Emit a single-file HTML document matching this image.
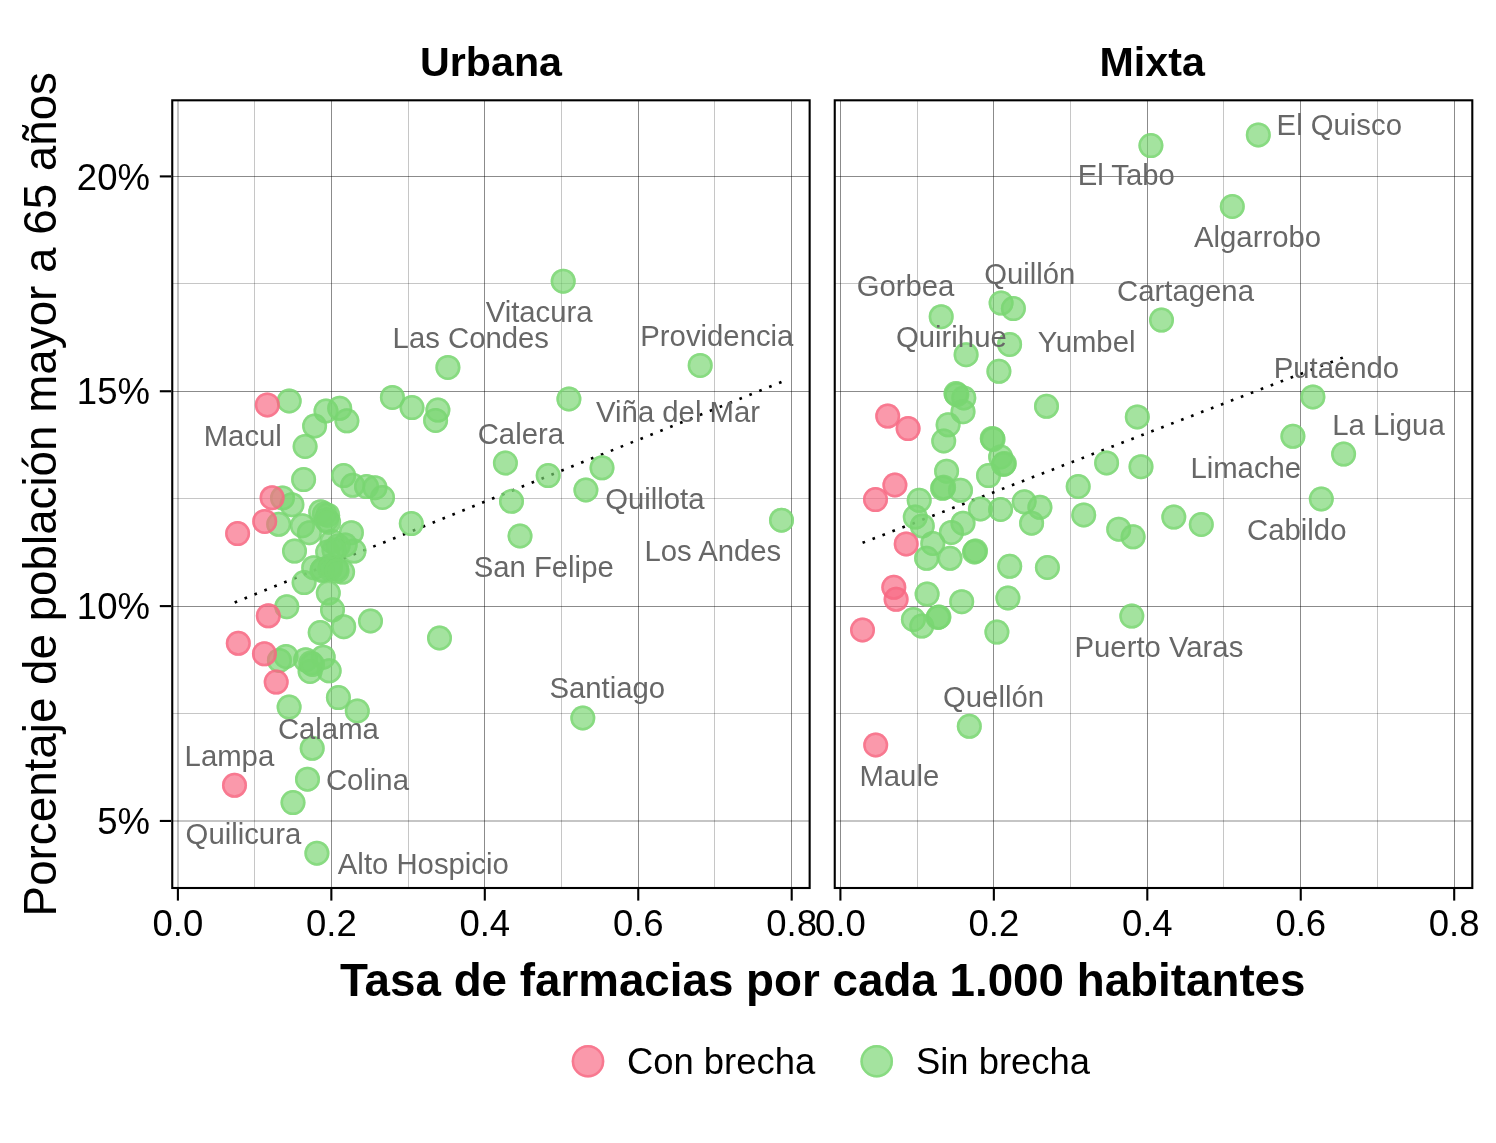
<!DOCTYPE html>
<html><head><meta charset="utf-8"><title>Chart</title>
<style>html,body{margin:0;padding:0;background:#fff}svg{display:block;will-change:transform}text{font-family:"Liberation Sans",sans-serif}.lb{font-size:29.3px;fill:#676767}.tk{font-size:36.5px;fill:#000}.lg{font-size:36.4px;fill:#000}.ti{font-size:45.75px;fill:#000;font-weight:bold}.st{font-size:41.2px;fill:#000;font-weight:bold}.yt{font-size:45.75px;fill:#000}.gM{stroke:#000;stroke-width:.46}.gm{stroke:#000;stroke-width:.23}.g circle{fill:#79D672}.g circle.r{fill:none;stroke:#79D672}.p circle{fill:#F86983}.p circle.r{fill:none;stroke:#F86983}circle{fill-opacity:.68}circle.r{stroke-opacity:.66;stroke-width:2.5}</style></head><body>
<svg width="1496" height="1143" viewBox="0 0 1496 1143">
<rect width="1496" height="1143" fill="#fff"/>
<clipPath id="c0"><rect x="172.25" y="100.3" width="637.4" height="787.7"/></clipPath>
<g clip-path="url(#c0)">
<line class="gm" x1="254.5" x2="254.5" y1="100.3" y2="888"/>
<line class="gm" x1="408.5" x2="408.5" y1="100.3" y2="888"/>
<line class="gm" x1="561.5" x2="561.5" y1="100.3" y2="888"/>
<line class="gm" x1="714.5" x2="714.5" y1="100.3" y2="888"/>
<line class="gm" x1="172.25" x2="809.65" y1="283.5" y2="283.5"/>
<line class="gm" x1="172.25" x2="809.65" y1="498.5" y2="498.5"/>
<line class="gm" x1="172.25" x2="809.65" y1="713.5" y2="713.5"/>
<line class="gM" x1="178" x2="178" y1="100.3" y2="888"/>
<line class="gM" x1="331.5" x2="331.5" y1="100.3" y2="888"/>
<line class="gM" x1="484.5" x2="484.5" y1="100.3" y2="888"/>
<line class="gM" x1="638.5" x2="638.5" y1="100.3" y2="888"/>
<line class="gM" x1="791.5" x2="791.5" y1="100.3" y2="888"/>
<line class="gM" x1="172.25" x2="809.65" y1="176.5" y2="176.5"/>
<line class="gM" x1="172.25" x2="809.65" y1="391.5" y2="391.5"/>
<line class="gM" x1="172.25" x2="809.65" y1="606.5" y2="606.5"/>
<line class="gM" x1="172.25" x2="809.65" y1="821" y2="821"/>
<line x1="234.67" y1="602.5" x2="781.5" y2="382.04" stroke="#000" stroke-width="2.66" stroke-dasharray="2.66 8.012"/>
<g class="g">
<circle cx="289.2" cy="401" r="12.5"/><circle class="r" cx="289.2" cy="401" r="11.25"/>
<circle cx="326" cy="411" r="12.5"/><circle class="r" cx="326" cy="411" r="11.25"/>
<circle cx="339.7" cy="408.3" r="12.5"/><circle class="r" cx="339.7" cy="408.3" r="11.25"/>
<circle cx="346.9" cy="420.8" r="12.5"/><circle class="r" cx="346.9" cy="420.8" r="11.25"/>
<circle cx="314.6" cy="426" r="12.5"/><circle class="r" cx="314.6" cy="426" r="11.25"/>
<circle cx="305.1" cy="446.5" r="12.5"/><circle class="r" cx="305.1" cy="446.5" r="11.25"/>
<circle cx="392.4" cy="397.4" r="12.5"/><circle class="r" cx="392.4" cy="397.4" r="11.25"/>
<circle cx="412" cy="407.6" r="12.5"/><circle class="r" cx="412" cy="407.6" r="11.25"/>
<circle cx="437.9" cy="410.1" r="12.5"/><circle class="r" cx="437.9" cy="410.1" r="11.25"/>
<circle cx="435.6" cy="420.4" r="12.5"/><circle class="r" cx="435.6" cy="420.4" r="11.25"/>
<circle cx="447.9" cy="367.4" r="12.5"/><circle class="r" cx="447.9" cy="367.4" r="11.25"/>
<circle cx="303.6" cy="479.6" r="12.5"/><circle class="r" cx="303.6" cy="479.6" r="11.25"/>
<circle cx="343.6" cy="475.6" r="12.5"/><circle class="r" cx="343.6" cy="475.6" r="11.25"/>
<circle cx="352.7" cy="485.3" r="12.5"/><circle class="r" cx="352.7" cy="485.3" r="11.25"/>
<circle cx="366.5" cy="486.6" r="12.5"/><circle class="r" cx="366.5" cy="486.6" r="11.25"/>
<circle cx="375" cy="487.7" r="12.5"/><circle class="r" cx="375" cy="487.7" r="11.25"/>
<circle cx="382.5" cy="497.5" r="12.5"/><circle class="r" cx="382.5" cy="497.5" r="11.25"/>
<circle cx="282.5" cy="498" r="12.5"/><circle class="r" cx="282.5" cy="498" r="11.25"/>
<circle cx="291.9" cy="504.7" r="12.5"/><circle class="r" cx="291.9" cy="504.7" r="11.25"/>
<circle cx="278.7" cy="524.3" r="12.5"/><circle class="r" cx="278.7" cy="524.3" r="11.25"/>
<circle cx="302.4" cy="525.7" r="12.5"/><circle class="r" cx="302.4" cy="525.7" r="11.25"/>
<circle cx="309.4" cy="532.7" r="12.5"/><circle class="r" cx="309.4" cy="532.7" r="11.25"/>
<circle cx="320.7" cy="511.7" r="12.5"/><circle class="r" cx="320.7" cy="511.7" r="11.25"/>
<circle cx="327.7" cy="515.2" r="12.5"/><circle class="r" cx="327.7" cy="515.2" r="11.25"/>
<circle cx="328.6" cy="522.2" r="12.5"/><circle class="r" cx="328.6" cy="522.2" r="11.25"/>
<circle cx="351.4" cy="532.7" r="12.5"/><circle class="r" cx="351.4" cy="532.7" r="11.25"/>
<circle cx="345.2" cy="545" r="12.5"/><circle class="r" cx="345.2" cy="545" r="11.25"/>
<circle cx="354" cy="551.1" r="12.5"/><circle class="r" cx="354" cy="551.1" r="11.25"/>
<circle cx="332.1" cy="541.5" r="12.5"/><circle class="r" cx="332.1" cy="541.5" r="11.25"/>
<circle cx="327.7" cy="552" r="12.5"/><circle class="r" cx="327.7" cy="552" r="11.25"/>
<circle cx="294.5" cy="551.1" r="12.5"/><circle class="r" cx="294.5" cy="551.1" r="11.25"/>
<circle cx="411.3" cy="523.6" r="12.5"/><circle class="r" cx="411.3" cy="523.6" r="11.25"/>
<circle cx="313.7" cy="567.7" r="12.5"/><circle class="r" cx="313.7" cy="567.7" r="11.25"/>
<circle cx="322.5" cy="569.5" r="12.5"/><circle class="r" cx="322.5" cy="569.5" r="11.25"/>
<circle cx="330.4" cy="566" r="12.5"/><circle class="r" cx="330.4" cy="566" r="11.25"/>
<circle cx="336.5" cy="568.6" r="12.5"/><circle class="r" cx="336.5" cy="568.6" r="11.25"/>
<circle cx="342.6" cy="572.1" r="12.5"/><circle class="r" cx="342.6" cy="572.1" r="11.25"/>
<circle cx="304.1" cy="582.6" r="12.5"/><circle class="r" cx="304.1" cy="582.6" r="11.25"/>
<circle cx="328.3" cy="593.1" r="12.5"/><circle class="r" cx="328.3" cy="593.1" r="11.25"/>
<circle cx="332.5" cy="609.8" r="12.5"/><circle class="r" cx="332.5" cy="609.8" r="11.25"/>
<circle cx="286.8" cy="606.7" r="12.5"/><circle class="r" cx="286.8" cy="606.7" r="11.25"/>
<circle cx="370.5" cy="621" r="12.5"/><circle class="r" cx="370.5" cy="621" r="11.25"/>
<circle cx="343.7" cy="626.7" r="12.5"/><circle class="r" cx="343.7" cy="626.7" r="11.25"/>
<circle cx="320.2" cy="632.6" r="12.5"/><circle class="r" cx="320.2" cy="632.6" r="11.25"/>
<circle cx="439.5" cy="638" r="12.5"/><circle class="r" cx="439.5" cy="638" r="11.25"/>
<circle cx="279.4" cy="660.4" r="12.5"/><circle class="r" cx="279.4" cy="660.4" r="11.25"/>
<circle cx="286" cy="656.4" r="12.5"/><circle class="r" cx="286" cy="656.4" r="11.25"/>
<circle cx="305.6" cy="659.8" r="12.5"/><circle class="r" cx="305.6" cy="659.8" r="11.25"/>
<circle cx="310.9" cy="663" r="12.5"/><circle class="r" cx="310.9" cy="663" r="11.25"/>
<circle cx="323.2" cy="657.2" r="12.5"/><circle class="r" cx="323.2" cy="657.2" r="11.25"/>
<circle cx="310.1" cy="671.4" r="12.5"/><circle class="r" cx="310.1" cy="671.4" r="11.25"/>
<circle cx="329.2" cy="670.8" r="12.5"/><circle class="r" cx="329.2" cy="670.8" r="11.25"/>
<circle cx="338.4" cy="697.6" r="12.5"/><circle class="r" cx="338.4" cy="697.6" r="11.25"/>
<circle cx="289.1" cy="707.1" r="12.5"/><circle class="r" cx="289.1" cy="707.1" r="11.25"/>
<circle cx="357.3" cy="711" r="12.5"/><circle class="r" cx="357.3" cy="711" r="11.25"/>
<circle cx="312.2" cy="748.3" r="12.5"/><circle class="r" cx="312.2" cy="748.3" r="11.25"/>
<circle cx="307.5" cy="779.2" r="12.5"/><circle class="r" cx="307.5" cy="779.2" r="11.25"/>
<circle cx="293" cy="802.6" r="12.5"/><circle class="r" cx="293" cy="802.6" r="11.25"/>
<circle cx="316.9" cy="853.2" r="12.5"/><circle class="r" cx="316.9" cy="853.2" r="11.25"/>
<circle cx="563.2" cy="281.2" r="12.5"/><circle class="r" cx="563.2" cy="281.2" r="11.25"/>
<circle cx="700.2" cy="365.4" r="12.5"/><circle class="r" cx="700.2" cy="365.4" r="11.25"/>
<circle cx="568.9" cy="399" r="12.5"/><circle class="r" cx="568.9" cy="399" r="11.25"/>
<circle cx="505.4" cy="463" r="12.5"/><circle class="r" cx="505.4" cy="463" r="11.25"/>
<circle cx="548.2" cy="475.6" r="12.5"/><circle class="r" cx="548.2" cy="475.6" r="11.25"/>
<circle cx="602" cy="467.8" r="12.5"/><circle class="r" cx="602" cy="467.8" r="11.25"/>
<circle cx="585.9" cy="490" r="12.5"/><circle class="r" cx="585.9" cy="490" r="11.25"/>
<circle cx="511.5" cy="501.3" r="12.5"/><circle class="r" cx="511.5" cy="501.3" r="11.25"/>
<circle cx="520" cy="536" r="12.5"/><circle class="r" cx="520" cy="536" r="11.25"/>
<circle cx="781.5" cy="520.2" r="12.5"/><circle class="r" cx="781.5" cy="520.2" r="11.25"/>
<circle cx="582.8" cy="718" r="12.5"/><circle class="r" cx="582.8" cy="718" r="11.25"/>
<circle cx="324.5" cy="514" r="12.5"/><circle class="r" cx="324.5" cy="514" r="11.25"/>
<circle cx="326.5" cy="520" r="12.5"/><circle class="r" cx="326.5" cy="520" r="11.25"/>
<circle cx="338" cy="546" r="12.5"/><circle class="r" cx="338" cy="546" r="11.25"/>
<circle cx="334" cy="550" r="12.5"/><circle class="r" cx="334" cy="550" r="11.25"/>
<circle cx="322" cy="570.5" r="12.5"/><circle class="r" cx="322" cy="570.5" r="11.25"/>
<circle cx="330" cy="569" r="12.5"/><circle class="r" cx="330" cy="569" r="11.25"/>
<circle cx="337" cy="571" r="12.5"/><circle class="r" cx="337" cy="571" r="11.25"/>
<circle cx="312.5" cy="664.5" r="12.5"/><circle class="r" cx="312.5" cy="664.5" r="11.25"/>
</g>
<g class="p">
<circle cx="267.3" cy="404.9" r="12.5"/><circle class="r" cx="267.3" cy="404.9" r="11.25"/>
<circle cx="272.1" cy="497.7" r="12.5"/><circle class="r" cx="272.1" cy="497.7" r="11.25"/>
<circle cx="264.7" cy="521.4" r="12.5"/><circle class="r" cx="264.7" cy="521.4" r="11.25"/>
<circle cx="237.6" cy="533.6" r="12.5"/><circle class="r" cx="237.6" cy="533.6" r="11.25"/>
<circle cx="268.3" cy="615.8" r="12.5"/><circle class="r" cx="268.3" cy="615.8" r="11.25"/>
<circle cx="238.3" cy="643.3" r="12.5"/><circle class="r" cx="238.3" cy="643.3" r="11.25"/>
<circle cx="264.4" cy="653.8" r="12.5"/><circle class="r" cx="264.4" cy="653.8" r="11.25"/>
<circle cx="276.2" cy="682.1" r="12.5"/><circle class="r" cx="276.2" cy="682.1" r="11.25"/>
<circle cx="234.5" cy="785.3" r="12.5"/><circle class="r" cx="234.5" cy="785.3" r="11.25"/>
</g>
</g>
<rect x="172.25" y="100.3" width="637.4" height="787.7" fill="none" stroke="#000" stroke-width="2.1"/>
<line x1="177.9" x2="177.9" y1="889" y2="900.6" stroke="#000" stroke-width="2.1"/>
<text class="tk" x="177.9" y="935.8" text-anchor="middle">0.0</text>
<line x1="331.35" x2="331.35" y1="889" y2="900.6" stroke="#000" stroke-width="2.1"/>
<text class="tk" x="331.35" y="935.8" text-anchor="middle">0.2</text>
<line x1="484.8" x2="484.8" y1="889" y2="900.6" stroke="#000" stroke-width="2.1"/>
<text class="tk" x="484.8" y="935.8" text-anchor="middle">0.4</text>
<line x1="638.25" x2="638.25" y1="889" y2="900.6" stroke="#000" stroke-width="2.1"/>
<text class="tk" x="638.25" y="935.8" text-anchor="middle">0.6</text>
<line x1="791.7" x2="791.7" y1="889" y2="900.6" stroke="#000" stroke-width="2.1"/>
<text class="tk" x="791.7" y="935.8" text-anchor="middle">0.8</text>
<clipPath id="c1"><rect x="834.75" y="100.3" width="637.55" height="787.7"/></clipPath>
<g clip-path="url(#c1)">
<line class="gm" x1="917.5" x2="917.5" y1="100.3" y2="888"/>
<line class="gm" x1="1070.5" x2="1070.5" y1="100.3" y2="888"/>
<line class="gm" x1="1223.5" x2="1223.5" y1="100.3" y2="888"/>
<line class="gm" x1="1377.5" x2="1377.5" y1="100.3" y2="888"/>
<line class="gm" x1="834.75" x2="1472.3" y1="283.5" y2="283.5"/>
<line class="gm" x1="834.75" x2="1472.3" y1="498.5" y2="498.5"/>
<line class="gm" x1="834.75" x2="1472.3" y1="713.5" y2="713.5"/>
<line class="gM" x1="840.5" x2="840.5" y1="100.3" y2="888"/>
<line class="gM" x1="993.5" x2="993.5" y1="100.3" y2="888"/>
<line class="gM" x1="1147.5" x2="1147.5" y1="100.3" y2="888"/>
<line class="gM" x1="1300.5" x2="1300.5" y1="100.3" y2="888"/>
<line class="gM" x1="1454.5" x2="1454.5" y1="100.3" y2="888"/>
<line class="gM" x1="834.75" x2="1472.3" y1="176.5" y2="176.5"/>
<line class="gM" x1="834.75" x2="1472.3" y1="391.5" y2="391.5"/>
<line class="gM" x1="834.75" x2="1472.3" y1="606.5" y2="606.5"/>
<line class="gM" x1="834.75" x2="1472.3" y1="821" y2="821"/>
<line x1="862.56" y1="542.83" x2="1342.84" y2="357.62" stroke="#000" stroke-width="2.66" stroke-dasharray="2.66 8.009"/>
<g class="g">
<circle cx="1150.9" cy="145.6" r="12.5"/><circle class="r" cx="1150.9" cy="145.6" r="11.25"/>
<circle cx="1258.3" cy="134.9" r="12.5"/><circle class="r" cx="1258.3" cy="134.9" r="11.25"/>
<circle cx="1232.3" cy="206.5" r="12.5"/><circle class="r" cx="1232.3" cy="206.5" r="11.25"/>
<circle cx="1161.5" cy="320.1" r="12.5"/><circle class="r" cx="1161.5" cy="320.1" r="11.25"/>
<circle cx="941.2" cy="316.7" r="12.5"/><circle class="r" cx="941.2" cy="316.7" r="11.25"/>
<circle cx="1001.1" cy="303.1" r="12.5"/><circle class="r" cx="1001.1" cy="303.1" r="11.25"/>
<circle cx="1013.4" cy="308.6" r="12.5"/><circle class="r" cx="1013.4" cy="308.6" r="11.25"/>
<circle cx="1009.6" cy="344.4" r="12.5"/><circle class="r" cx="1009.6" cy="344.4" r="11.25"/>
<circle cx="966.1" cy="354.7" r="12.5"/><circle class="r" cx="966.1" cy="354.7" r="11.25"/>
<circle cx="998.9" cy="371.3" r="12.5"/><circle class="r" cx="998.9" cy="371.3" r="11.25"/>
<circle cx="956.8" cy="394.7" r="12.5"/><circle class="r" cx="956.8" cy="394.7" r="11.25"/>
<circle cx="956" cy="393.5" r="12.5"/><circle class="r" cx="956" cy="393.5" r="11.25"/>
<circle cx="963.8" cy="397.9" r="12.5"/><circle class="r" cx="963.8" cy="397.9" r="11.25"/>
<circle cx="963" cy="411.7" r="12.5"/><circle class="r" cx="963" cy="411.7" r="11.25"/>
<circle cx="948.1" cy="424.8" r="12.5"/><circle class="r" cx="948.1" cy="424.8" r="11.25"/>
<circle cx="943.7" cy="441" r="12.5"/><circle class="r" cx="943.7" cy="441" r="11.25"/>
<circle cx="1046.5" cy="406.3" r="12.5"/><circle class="r" cx="1046.5" cy="406.3" r="11.25"/>
<circle cx="1137.3" cy="416.9" r="12.5"/><circle class="r" cx="1137.3" cy="416.9" r="11.25"/>
<circle cx="992.3" cy="438.4" r="12.5"/><circle class="r" cx="992.3" cy="438.4" r="11.25"/>
<circle cx="993" cy="439.4" r="12.5"/><circle class="r" cx="993" cy="439.4" r="11.25"/>
<circle cx="1000.6" cy="457" r="12.5"/><circle class="r" cx="1000.6" cy="457" r="11.25"/>
<circle cx="1004.3" cy="463.6" r="12.5"/><circle class="r" cx="1004.3" cy="463.6" r="11.25"/>
<circle cx="1003.5" cy="464.5" r="12.5"/><circle class="r" cx="1003.5" cy="464.5" r="11.25"/>
<circle cx="988.5" cy="475.6" r="12.5"/><circle class="r" cx="988.5" cy="475.6" r="11.25"/>
<circle cx="946.6" cy="471.2" r="12.5"/><circle class="r" cx="946.6" cy="471.2" r="11.25"/>
<circle cx="942.6" cy="488.3" r="12.5"/><circle class="r" cx="942.6" cy="488.3" r="11.25"/>
<circle cx="943.6" cy="487.3" r="12.5"/><circle class="r" cx="943.6" cy="487.3" r="11.25"/>
<circle cx="960.5" cy="490.3" r="12.5"/><circle class="r" cx="960.5" cy="490.3" r="11.25"/>
<circle cx="919.2" cy="500.3" r="12.5"/><circle class="r" cx="919.2" cy="500.3" r="11.25"/>
<circle cx="915.3" cy="517.1" r="12.5"/><circle class="r" cx="915.3" cy="517.1" r="11.25"/>
<circle cx="922.3" cy="525.9" r="12.5"/><circle class="r" cx="922.3" cy="525.9" r="11.25"/>
<circle cx="980.4" cy="509" r="12.5"/><circle class="r" cx="980.4" cy="509" r="11.25"/>
<circle cx="1000.6" cy="509.5" r="12.5"/><circle class="r" cx="1000.6" cy="509.5" r="11.25"/>
<circle cx="1024.2" cy="501.8" r="12.5"/><circle class="r" cx="1024.2" cy="501.8" r="11.25"/>
<circle cx="1039.9" cy="507.3" r="12.5"/><circle class="r" cx="1039.9" cy="507.3" r="11.25"/>
<circle cx="1031.6" cy="523.2" r="12.5"/><circle class="r" cx="1031.6" cy="523.2" r="11.25"/>
<circle cx="963" cy="523.2" r="12.5"/><circle class="r" cx="963" cy="523.2" r="11.25"/>
<circle cx="951.4" cy="532.4" r="12.5"/><circle class="r" cx="951.4" cy="532.4" r="11.25"/>
<circle cx="1078.2" cy="486.5" r="12.5"/><circle class="r" cx="1078.2" cy="486.5" r="11.25"/>
<circle cx="1106.6" cy="462.9" r="12.5"/><circle class="r" cx="1106.6" cy="462.9" r="11.25"/>
<circle cx="1083.7" cy="514.9" r="12.5"/><circle class="r" cx="1083.7" cy="514.9" r="11.25"/>
<circle cx="1118.7" cy="529.2" r="12.5"/><circle class="r" cx="1118.7" cy="529.2" r="11.25"/>
<circle cx="1133.1" cy="536.8" r="12.5"/><circle class="r" cx="1133.1" cy="536.8" r="11.25"/>
<circle cx="1141" cy="466.7" r="12.5"/><circle class="r" cx="1141" cy="466.7" r="11.25"/>
<circle cx="1173.8" cy="517.1" r="12.5"/><circle class="r" cx="1173.8" cy="517.1" r="11.25"/>
<circle cx="1201.3" cy="524.5" r="12.5"/><circle class="r" cx="1201.3" cy="524.5" r="11.25"/>
<circle cx="932.8" cy="543.4" r="12.5"/><circle class="r" cx="932.8" cy="543.4" r="11.25"/>
<circle cx="926.6" cy="558.3" r="12.5"/><circle class="r" cx="926.6" cy="558.3" r="11.25"/>
<circle cx="950" cy="558.3" r="12.5"/><circle class="r" cx="950" cy="558.3" r="11.25"/>
<circle cx="975.5" cy="551" r="12.5"/><circle class="r" cx="975.5" cy="551" r="11.25"/>
<circle cx="974.5" cy="552" r="12.5"/><circle class="r" cx="974.5" cy="552" r="11.25"/>
<circle cx="1009.7" cy="566.3" r="12.5"/><circle class="r" cx="1009.7" cy="566.3" r="11.25"/>
<circle cx="1047.4" cy="567.5" r="12.5"/><circle class="r" cx="1047.4" cy="567.5" r="11.25"/>
<circle cx="927.1" cy="594.1" r="12.5"/><circle class="r" cx="927.1" cy="594.1" r="11.25"/>
<circle cx="961.7" cy="601.7" r="12.5"/><circle class="r" cx="961.7" cy="601.7" r="11.25"/>
<circle cx="1007.9" cy="598" r="12.5"/><circle class="r" cx="1007.9" cy="598" r="11.25"/>
<circle cx="913.4" cy="619.5" r="12.5"/><circle class="r" cx="913.4" cy="619.5" r="11.25"/>
<circle cx="921.8" cy="626.1" r="12.5"/><circle class="r" cx="921.8" cy="626.1" r="11.25"/>
<circle cx="938.9" cy="616.9" r="12.5"/><circle class="r" cx="938.9" cy="616.9" r="11.25"/>
<circle cx="938" cy="617.5" r="12.5"/><circle class="r" cx="938" cy="617.5" r="11.25"/>
<circle cx="996.9" cy="632.1" r="12.5"/><circle class="r" cx="996.9" cy="632.1" r="11.25"/>
<circle cx="1131.8" cy="616.1" r="12.5"/><circle class="r" cx="1131.8" cy="616.1" r="11.25"/>
<circle cx="969.3" cy="726.3" r="12.5"/><circle class="r" cx="969.3" cy="726.3" r="11.25"/>
<circle cx="1312.9" cy="396.9" r="12.5"/><circle class="r" cx="1312.9" cy="396.9" r="11.25"/>
<circle cx="1292.9" cy="436.3" r="12.5"/><circle class="r" cx="1292.9" cy="436.3" r="11.25"/>
<circle cx="1343.6" cy="454.1" r="12.5"/><circle class="r" cx="1343.6" cy="454.1" r="11.25"/>
<circle cx="1321.3" cy="499" r="12.5"/><circle class="r" cx="1321.3" cy="499" r="11.25"/>
</g>
<g class="p">
<circle cx="887.7" cy="416.1" r="12.5"/><circle class="r" cx="887.7" cy="416.1" r="11.25"/>
<circle cx="908.1" cy="428.6" r="12.5"/><circle class="r" cx="908.1" cy="428.6" r="11.25"/>
<circle cx="894.9" cy="485" r="12.5"/><circle class="r" cx="894.9" cy="485" r="11.25"/>
<circle cx="875.5" cy="499.6" r="12.5"/><circle class="r" cx="875.5" cy="499.6" r="11.25"/>
<circle cx="906.2" cy="543.9" r="12.5"/><circle class="r" cx="906.2" cy="543.9" r="11.25"/>
<circle cx="893.8" cy="587.3" r="12.5"/><circle class="r" cx="893.8" cy="587.3" r="11.25"/>
<circle cx="896.1" cy="599.3" r="12.5"/><circle class="r" cx="896.1" cy="599.3" r="11.25"/>
<circle cx="862.5" cy="630" r="12.5"/><circle class="r" cx="862.5" cy="630" r="11.25"/>
<circle cx="875.7" cy="745" r="12.5"/><circle class="r" cx="875.7" cy="745" r="11.25"/>
</g>
</g>
<rect x="834.75" y="100.3" width="637.55" height="787.7" fill="none" stroke="#000" stroke-width="2.1"/>
<line x1="840.4" x2="840.4" y1="889" y2="900.6" stroke="#000" stroke-width="2.1"/>
<text class="tk" x="840.4" y="935.8" text-anchor="middle">0.0</text>
<line x1="993.85" x2="993.85" y1="889" y2="900.6" stroke="#000" stroke-width="2.1"/>
<text class="tk" x="993.85" y="935.8" text-anchor="middle">0.2</text>
<line x1="1147.3" x2="1147.3" y1="889" y2="900.6" stroke="#000" stroke-width="2.1"/>
<text class="tk" x="1147.3" y="935.8" text-anchor="middle">0.4</text>
<line x1="1300.75" x2="1300.75" y1="889" y2="900.6" stroke="#000" stroke-width="2.1"/>
<text class="tk" x="1300.75" y="935.8" text-anchor="middle">0.6</text>
<line x1="1454.2" x2="1454.2" y1="889" y2="900.6" stroke="#000" stroke-width="2.1"/>
<text class="tk" x="1454.2" y="935.8" text-anchor="middle">0.8</text>
<text class="lb" x="485.67" y="322.1">Vitacura</text>
<text class="lb" x="392.6" y="347.8">Las Condes</text>
<text class="lb" x="640.3" y="345.9">Providencia</text>
<text class="lb" x="596.07" y="421.8">Viña del Mar</text>
<text class="lb" x="477.71" y="444.3">Calera</text>
<text class="lb" x="203.7" y="446">Macul</text>
<text class="lb" x="605.21" y="509">Quillota</text>
<text class="lb" x="644.4" y="560.7">Los Andes</text>
<text class="lb" x="473.67" y="576.5">San Felipe</text>
<text class="lb" x="549.47" y="698.1">Santiago</text>
<text class="lb" x="277.91" y="738.5">Calama</text>
<text class="lb" x="184.6" y="766">Lampa</text>
<text class="lb" x="325.91" y="789.7">Colina</text>
<text class="lb" x="185.61" y="844.2">Quilicura</text>
<text class="lb" x="337.84" y="873.9">Alto Hospicio</text>
<text class="lb" x="1276.6" y="134.8">El Quisco</text>
<text class="lb" x="1077.7" y="185.2">El Tabo</text>
<text class="lb" x="1194.04" y="246.9">Algarrobo</text>
<text class="lb" x="984.21" y="283.8">Quillón</text>
<text class="lb" x="856.63" y="295.7">Gorbea</text>
<text class="lb" x="1117.11" y="300.9">Cartagena</text>
<text class="lb" x="896.01" y="346.8">Quirihue</text>
<text class="lb" x="1037.76" y="351.8">Yumbel</text>
<text class="lb" x="1273.7" y="377.7">Putaendo</text>
<text class="lb" x="1332.3" y="434.7">La Ligua</text>
<text class="lb" x="1190.4" y="477.7">Limache</text>
<text class="lb" x="1247.11" y="540.2">Cabildo</text>
<text class="lb" x="1074.5" y="657">Puerto Varas</text>
<text class="lb" x="943.01" y="706.9">Quellón</text>
<text class="lb" x="859.4" y="785.8">Maule</text>
<line x1="159.8" x2="171" y1="176.4" y2="176.4" stroke="#000" stroke-width="2.1"/>
<text class="tk" x="149.9" y="189.6" text-anchor="end">20%</text>
<line x1="159.8" x2="171" y1="391.25" y2="391.25" stroke="#000" stroke-width="2.1"/>
<text class="tk" x="149.9" y="404.45" text-anchor="end">15%</text>
<line x1="159.8" x2="171" y1="606.1" y2="606.1" stroke="#000" stroke-width="2.1"/>
<text class="tk" x="149.9" y="619.3" text-anchor="end">10%</text>
<line x1="159.8" x2="171" y1="820.95" y2="820.95" stroke="#000" stroke-width="2.1"/>
<text class="tk" x="149.9" y="834.15" text-anchor="end">5%</text>
<text class="st" x="491" y="75.6" text-anchor="middle">Urbana</text>
<text class="st" x="1152.2" y="75.6" text-anchor="middle">Mixta</text>
<text class="ti" x="822.8" y="995.7" text-anchor="middle">Tasa de farmacias por cada 1.000 habitantes</text>
<text class="yt" transform="translate(56 494.2) rotate(-90)" text-anchor="middle">Porcentaje de población mayor a 65 años</text>
<g class="p"><circle cx="588" cy="1061.2" r="16.3"/><circle class="r" cx="588" cy="1061.2" r="15.05"/></g>
<text class="lg" x="627" y="1073.5">Con brecha</text>
<g class="g"><circle cx="876.7" cy="1061.2" r="16.3"/><circle class="r" cx="876.7" cy="1061.2" r="15.05"/></g>
<text class="lg" x="916" y="1073.5">Sin brecha</text>
</svg></body></html>
